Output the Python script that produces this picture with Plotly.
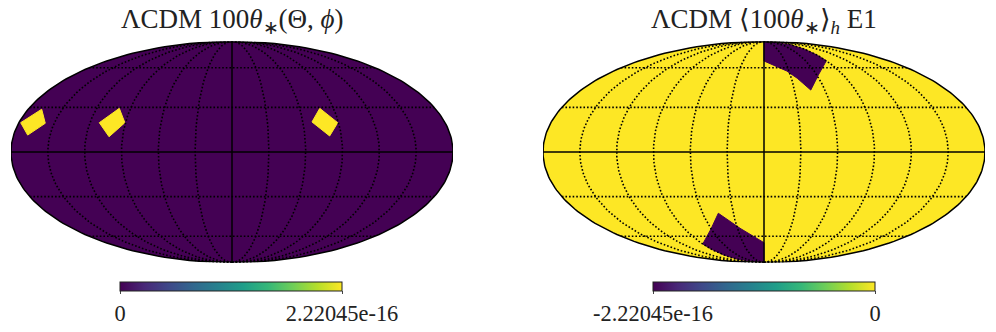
#!/usr/bin/env python3
# -*- coding: utf-8 -*-
import numpy as np
import plotly.graph_objects as go

DARK = "#440154"
YELLOW = "#fde725"
INK = "#222222"
SERIF = "Liberation Serif"

# The page body has an 8px margin, so the figure is 8px smaller than the window
FIG_W = 988
FIG_H = 324

# Patches in lon / lat degrees
patch_a_lon = [-178.5, -168.1, -157.5, -168.4, -178.5]
patch_a_lat = [19.5, 28.7, 19.1, 11.2, 19.5]
patch_b_lon = [-112.1, -99.9, -90.5, -101.1, -112.1]
patch_b_lat = [19.5, 29.3, 19.5, 10.1, 19.5]
patch_c_lon = [77.8, 89.3, 80.4, 67.7, 77.8]
patch_c_lat = [29.3, 19.5, 10.6, 20.0, 29.3]

top_lon = [0, 90, 90, 90, 90, 61.7, 46.0, 36.4, 27.2, 0, 0]
top_lat = [90, 84, 78, 72, 66.2, 54.0, 42.4, 51.4, 57.3, 66.0, 90]
bottom_lon = [0, 0, -27.0, -44.7, -60.2, -90, -90, -90, -90, 0]
bottom_lat = [-90, -65.7, -53.4, -41.9, -54.0, -66.9, -72, -78, -84, -90]

# Graticule
meridians = [-150, -120, -90, -60, -30, 30, 60, 90, 120, 150]
parallels = [-60, -30, 30, 60]
grid_lons = np.linspace(-180, 180, 121)
grid_lats = np.linspace(-90, 90, 121)

# Colour bars
cb_left_range = [0, 2.22045e-16]
cb_left_labels = ["0", "2.22045e-16"]
cb_right_range = [-2.22045e-16, 0]
cb_right_labels = ["-2.22045e-16", "0"]

# Mollweide auxiliary angle looked up from a table
theta_table = np.linspace(-np.pi / 2, np.pi / 2, 20001)
sin_table = (2 * theta_table + np.sin(2 * theta_table)) / np.pi


def moll(lon, lat):
    lon = np.asarray(lon, dtype=float)
    lat = np.asarray(lat, dtype=float)
    theta = np.interp(np.sin(np.radians(lat)), sin_table, theta_table)
    return lon / 90 * np.cos(theta), np.sin(theta)


def px(p):
    return (p - 8) / FIG_W


def py(p):
    return 1 - (p - 8) / FIG_H


fig = go.Figure()


def add_line(lon, lat, axis, color="black", width=1.5, dash="solid", fill=None):
    x, y = moll(lon, lat)
    fig.add_trace(go.Scatter(x=x, y=y, mode="lines", xaxis="x" + axis, yaxis="y" + axis,
                             line=dict(color=color, width=width, dash=dash),
                             fill="toself" if fill else None, fillcolor=fill,
                             cliponaxis=False, hoverinfo="skip", showlegend=False))


def add_panel(bg, patches, patch_color, axis):
    # sphere background
    rim_lon = np.r_[np.full(grid_lats.size, -180.0), np.full(grid_lats.size, 180.0), -180.0]
    rim_lat = np.r_[grid_lats, grid_lats[::-1], grid_lats[0]]
    add_line(rim_lon, rim_lat, axis, color=bg, width=0, fill=bg)
    for lon, lat in patches:
        add_line(lon, lat, axis, color=patch_color, width=1, fill=patch_color)
    for lon in meridians:
        add_line([lon] * grid_lats.size, grid_lats, axis, width=1.6, dash="1.6px,2px")
    for lat in parallels:
        add_line(grid_lons, [lat] * grid_lons.size, axis, width=1.6, dash="1.6px,2px")
    add_line(grid_lons, [0] * grid_lons.size, axis)
    add_line([0, 0], [-90, 90], axis)
    add_line(rim_lon, rim_lat, axis)


def add_colorbar(rng, labels, x0, axis):
    fig.add_trace(go.Scatter(
        x=[0, 0], y=[0, 0], mode="markers", xaxis="x" + axis, yaxis="y" + axis,
        hoverinfo="skip", showlegend=False,
        marker=dict(size=1, opacity=0, color=rng, cmin=rng[0], cmax=rng[1],
                    colorscale="Viridis", showscale=True,
                    colorbar=dict(orientation="h", x=px(x0), xanchor="left",
                                  y=py(282), yanchor="top",
                                  len=222, lenmode="pixels", thickness=9, thicknessmode="pixels",
                                  xpad=0, ypad=0, outlinecolor=INK, outlinewidth=1,
                                  tickmode="array", tickvals=rng, ticktext=labels,
                                  ticks="outside", ticklen=3, tickwidth=1, tickcolor="#444444",
                                  tickfont=dict(family=SERIF, size=22.4, color=INK))),
    ))


add_panel(DARK, [(patch_a_lon, patch_a_lat), (patch_b_lon, patch_b_lat), (patch_c_lon, patch_c_lat)],
          YELLOW, "")
add_colorbar(cb_left_range, cb_left_labels, 120, "")
add_panel(YELLOW, [(top_lon, top_lat), (bottom_lon, bottom_lat)], DARK, "2")
add_colorbar(cb_right_range, cb_right_labels, 653, "2")

hidden = dict(visible=False, fixedrange=True)
fig.update_layout(
    width=FIG_W, height=FIG_H,
    margin=dict(l=0, r=0, t=0, b=0),
    paper_bgcolor="white", plot_bgcolor="white",
    showlegend=False,
    xaxis=dict(domain=[px(11), px(453)], range=[-2, 2], **hidden),
    yaxis=dict(domain=[py(262.5), py(41.5)], range=[-1, 1], **hidden),
    xaxis2=dict(domain=[px(543), px(985)], range=[-2, 2], **hidden),
    yaxis2=dict(domain=[py(262.5), py(41.5)], range=[-1, 1], **hidden),
    annotations=[
        dict(text="ΛCDM 100<i>θ</i><sub>∗</sub>(Θ, <i>ϕ</i>)", x=px(232), y=py(39),
             xref="paper", yref="paper", xanchor="center", yanchor="bottom", showarrow=False,
             borderpad=0, font=dict(family=SERIF, size=27, color=INK)),
        dict(text="ΛCDM ⟨100<i>θ</i><sub>∗</sub>⟩<sub><i>h</i></sub> E1", x=px(764), y=py(39),
             xref="paper", yref="paper", xanchor="center", yanchor="bottom", showarrow=False,
             borderpad=0, font=dict(family=SERIF, size=27, color=INK)),
    ],
)

fig.write_html("out.html")
